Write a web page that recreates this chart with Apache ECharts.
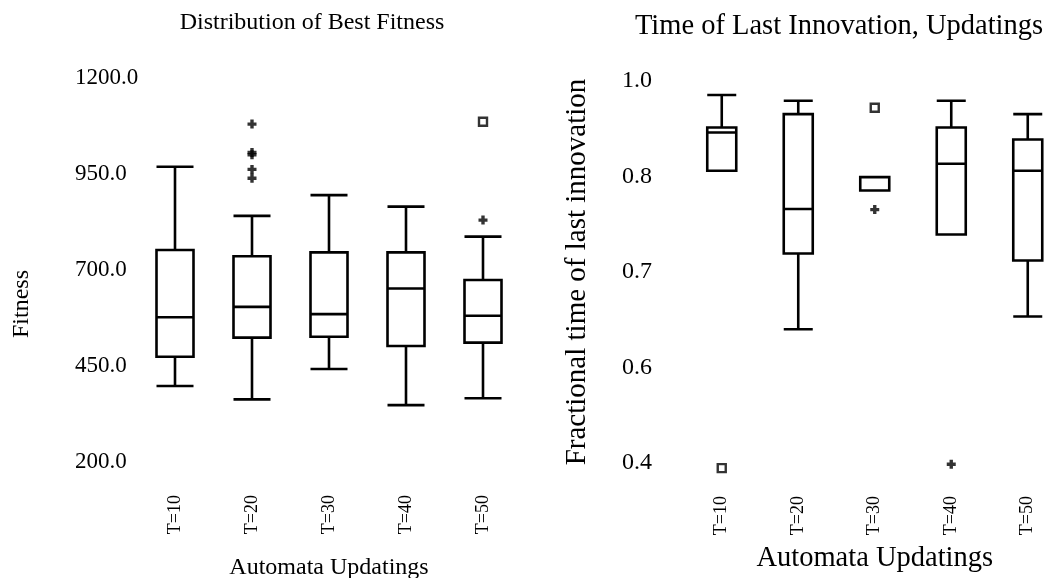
<!DOCTYPE html>
<html><head><meta charset="utf-8">
<script src="https://cdn.jsdelivr.net/npm/echarts@6/dist/echarts.min.js"></script>
<style>html,body{margin:0;padding:0;background:#fff;overflow:hidden}#c{width:1047px;height:578px}</style>
</head><body><div id="c"></div>
<script>
// ---- data ----
const categories = ['T=10', 'T=20', 'T=30', 'T=40', 'T=50'];

// [min, Q1, median, Q3, max]
const fitnessBoxes = [
  [398, 474, 577, 752, 969],
  [363, 524, 604, 736, 841],
  [442, 526, 585, 746, 895],
  [348, 502, 652, 746, 865],
  [366, 511, 581, 674, 787]
];
const fitnessPlusOutliers = [[1, 1080], [1, 1006], [1, 1000], [1, 962], [1, 939], [4, 830]];
const fitnessSquareOutliers = [[4, 1086]];
const fitnessTickLabels = ['200.0', '450.0', '700.0', '950.0', '1200.0'];

const innovBoxes = [
  [0.859, 0.859, 0.919, 0.927, 0.978],
  [0.610, 0.729, 0.799, 0.948, 0.969],
  [0.828, 0.828, 0.828, 0.849, 0.849],
  [0.759, 0.759, 0.870, 0.927, 0.969],
  [0.630, 0.718, 0.859, 0.908, 0.948]
];
const innovPlusOutliers = [[2, 0.798], [3, 0.398]];
const innovSquareOutliers = [[0, 0.392], [2, 0.958]];
const innovTickLabels = ['0.4', '0.6', '0.7', '0.8', '1.0'];

// ---- chart ----
const FONT = "'Liberation Serif', 'DejaVu Serif', serif";
const PLUS = 'path://M2.5,0H5.5V2.5H8V5.5H5.5V8H2.5V5.5H0V2.5H2.5Z';
const chart = echarts.init(document.getElementById('c'), null, {renderer: 'canvas'});

function xAxisCfg(gridIndex, nameSize, nameGap) {
  return {
    type: 'category', gridIndex, data: categories, boundaryGap: true,
    axisLine: {show: false}, axisTick: {show: false}, splitLine: {show: false},
    axisLabel: {rotate: 90, margin: 33, fontSize: 18, fontFamily: FONT, color: '#000', interval: 0},
    name: 'Automata Updatings', nameLocation: 'middle', nameGap,
    nameTextStyle: {fontSize: nameSize, fontFamily: FONT, color: '#000'}
  };
}
function plusSeries(axis, data) {
  return {type: 'scatter', xAxisIndex: axis, yAxisIndex: axis, data, symbol: PLUS, symbolSize: 9, clip: false,
    itemStyle: {color: '#000'}};
}
function squareSeries(axis, data) {
  return {type: 'scatter', xAxisIndex: axis, yAxisIndex: axis, data, symbol: 'rect', symbolSize: 8, clip: false,
    itemStyle: {color: '#fff', borderColor: '#000', borderWidth: 2.4}};
}

const option = {
  backgroundColor: '#fff',
  animation: false,
  graphic: [
    {type: 'text', x: 312, y: 23, style: {text: 'Distribution of Best Fitness', font: '24px ' + FONT, fill: '#000', align: 'center', verticalAlign: 'middle'}},
    {type: 'text', x: 839, y: 27, style: {text: 'Time of Last Innovation, Updatings', font: '28.5px ' + FONT, fill: '#000', align: 'center', verticalAlign: 'middle'}},
    {type: 'text', x: 22, y: 304, rotation: Math.PI / 2, style: {text: 'Fitness', font: '24px ' + FONT, fill: '#000', align: 'center', verticalAlign: 'middle'}}
  ],
  grid: [
    {left: 136.5, top: 78, width: 385, height: 384, outerBoundsMode: 'none', containLabel: false},
    {left: 683.5, top: 81, width: 382.5, height: 382, outerBoundsMode: 'none', containLabel: false}
  ],
  xAxis: [xAxisCfg(0, 24, 94), xAxisCfg(1, 28.5, 81)],
  yAxis: [
    {
      type: 'value', gridIndex: 0, min: 200, max: 1200, interval: 250,
      axisLine: {show: false}, axisTick: {show: false}, splitLine: {show: false},
      axisLabel: {align: 'left', margin: 61.5, fontSize: 23, fontFamily: FONT, color: '#000',
        formatter: (v, i) => fitnessTickLabels[i]}
    },
    {
      type: 'value', gridIndex: 1, min: 0.4, max: 1.0, interval: 0.15,
      axisLine: {show: false}, axisTick: {show: false}, splitLine: {show: false},
      axisLabel: {align: 'left', margin: 61.5, fontSize: 24, fontFamily: FONT, color: '#000',
        formatter: (v, i) => innovTickLabels[i]},
      name: 'Fractional time of last innovation', nameLocation: 'middle', nameGap: 92, nameRotate: 90,
      nameTextStyle: {fontSize: 29, fontFamily: FONT, color: '#000'}
    }
  ],
  series: [
    {type: 'boxplot', xAxisIndex: 0, yAxisIndex: 0, data: fitnessBoxes, boxWidth: [37, 37],
      itemStyle: {color: '#fff', borderColor: '#000', borderWidth: 2.6}},
    plusSeries(0, fitnessPlusOutliers),
    squareSeries(0, fitnessSquareOutliers),
    {type: 'boxplot', xAxisIndex: 1, yAxisIndex: 1, data: innovBoxes, boxWidth: [29, 29],
      itemStyle: {color: '#fff', borderColor: '#000', borderWidth: 2.6}},
    plusSeries(1, innovPlusOutliers),
    squareSeries(1, innovSquareOutliers)
  ]
};
chart.setOption(option);
</script>
</body></html>
